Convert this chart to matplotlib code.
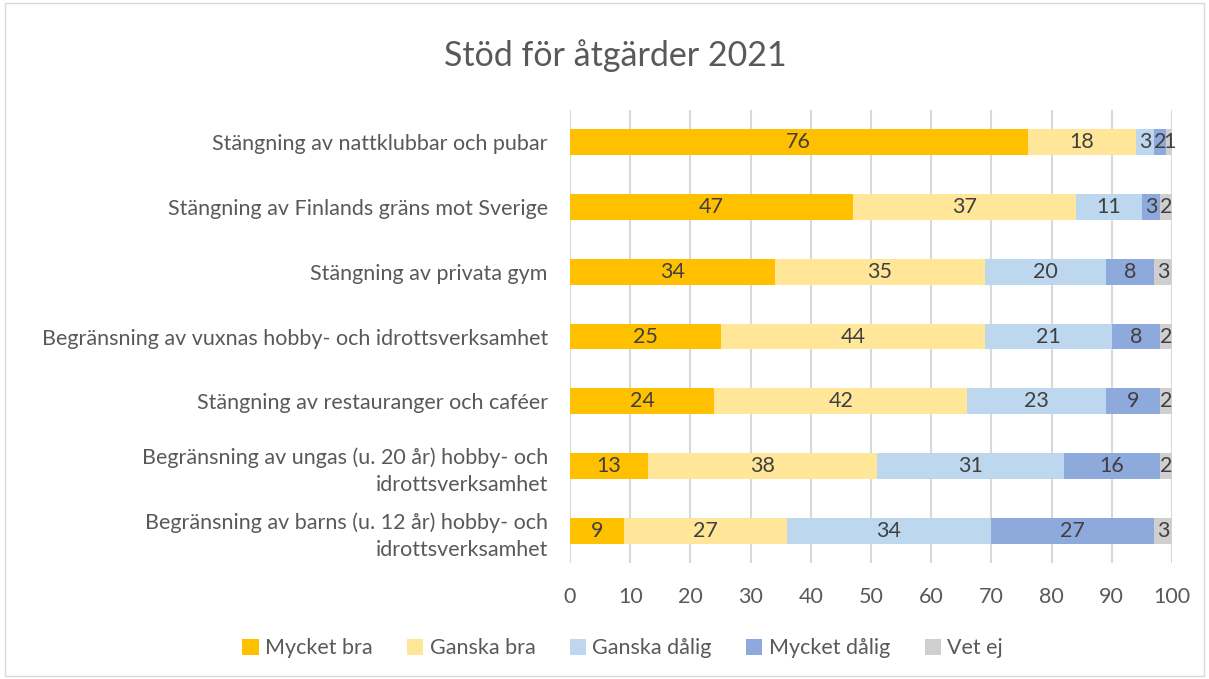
import matplotlib.pyplot as plt
import numpy as np

plt.rcParams['font.family'] = ['Lato', 'DejaVu Sans']

categories = [
    'Stängning av nattklubbar och pubar',
    'Stängning av Finlands gräns mot Sverige',
    'Stängning av privata gym',
    'Begränsning av vuxnas hobby- och idrottsverksamhet',
    'Stängning av restauranger och caféer',
    'Begränsning av ungas (u. 20 år) hobby- och\nidrottsverksamhet',
    'Begränsning av barns (u. 12 år) hobby- och\nidrottsverksamhet',
]
series = ['Mycket bra', 'Ganska bra', 'Ganska dålig', 'Mycket dålig', 'Vet ej']
mycket_bra = [76, 47, 34, 25, 24, 13, 9]
ganska_bra = [18, 37, 35, 44, 42, 38, 27]
ganska_dalig = [3, 11, 20, 21, 23, 31, 34]
mycket_dalig = [2, 3, 8, 8, 9, 16, 27]
vet_ej = [1, 2, 3, 2, 2, 2, 3]
colors = ['#FFC000', '#FFE699', '#BDD7EE', '#8EA9DB', '#D0CECE']

values = [mycket_bra, ganska_bra, ganska_dalig, mycket_dalig, vet_ej]

fig = plt.figure(figsize=(12.09, 6.79), dpi=100)
ax = fig.add_axes([570 / 1209, 1 - 563 / 679, 602 / 1209, 453 / 679])

y = np.arange(len(categories))
left = np.zeros(len(categories))
for name, vals, col in zip(series, values, colors):
    vals = np.array(vals, dtype=float)
    bars = ax.barh(y, vals, left=left, height=0.4, color=col, label=name, zorder=3)
    ax.bar_label(bars, labels=[str(int(v)) for v in vals], label_type='center',
                 fontsize=15.5, color='#404040')
    left += vals

ax.set_xlim(0, 100)
ax.set_ylim(len(categories) - 0.5, -0.5)
ax.set_xticks(range(0, 101, 10))
ax.set_yticks(y)
ax.set_yticklabels(categories, fontsize=15.5, color='#595959', linespacing=1.45)
ax.tick_params(axis='x', labelsize=15.5, colors='#595959', length=0, pad=17)
ax.tick_params(axis='y', length=0, pad=16)
ax.grid(axis='x', color='#D9D9D9', linewidth=1.5, zorder=0)
for s in ax.spines.values():
    s.set_visible(False)

fig.text(0.509, 0.918, 'Stöd för åtgärder 2021', ha='center', va='center',
         fontsize=24.5, color='#595959')

fig.legend(loc='center', bbox_to_anchor=(0.515, 0.045), ncol=5, frameon=False,
           fontsize=15.5, handlelength=0.75, handleheight=0.75, handletextpad=0.3,
           columnspacing=1.6, labelcolor='#595959')

border = plt.Rectangle((0.004, 0.004), 0.992, 0.992, transform=fig.transFigure,
                       fill=False, edgecolor='#D9D9D9', linewidth=1)
fig.patches.append(border)

fig.savefig('out.png', dpi=100)
